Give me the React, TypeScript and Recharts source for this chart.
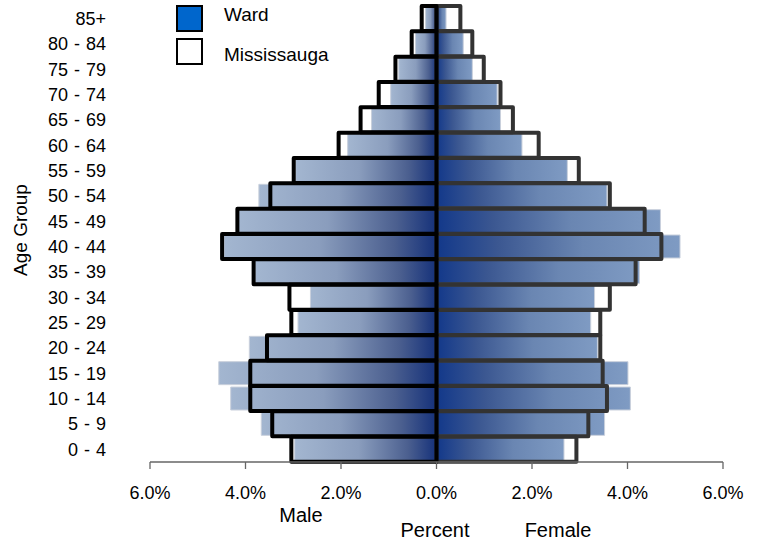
import { BarChart, Bar, XAxis, YAxis } from 'recharts';

// age groups, youngest first (axis is reversed so 85+ sits on top)
const AGE_GROUPS = [
  '0 - 4', '5 - 9', '10 - 14', '15 - 19', '20 - 24', '25 - 29', '30 - 34', '35 - 39', '40 - 44',
  '45 - 49', '50 - 54', '55 - 59', '60 - 64', '65 - 69', '70 - 74', '75 - 79', '80 - 84', '85+',
];

// percent of population
const WARD_MALE = [2.97, 3.67, 4.31, 4.56, 3.92, 2.9, 2.64, 3.8, 4.45, 4.15, 3.72, 2.95, 1.86, 1.36, 0.96, 0.79, 0.44, 0.23];
const WARD_FEMALE = [2.67, 3.52, 4.06, 4.01, 3.37, 3.23, 3.31, 4.25, 5.1, 4.69, 3.57, 2.74, 1.79, 1.34, 1.27, 0.75, 0.56, 0.2];
const MISS_MALE = [3.04, 3.44, 3.9, 3.9, 3.55, 3.04, 3.08, 3.83, 4.49, 4.17, 3.48, 2.99, 2.05, 1.59, 1.21, 0.86, 0.52, 0.31];
const MISS_FEMALE = [2.93, 3.18, 3.57, 3.48, 3.43, 3.43, 3.63, 4.17, 4.71, 4.36, 3.63, 2.98, 2.14, 1.6, 1.34, 0.99, 0.75, 0.5];

const X_TICKS = [-6, -4, -2, 0, 2, 4, 6];

const FONT = '"Liberation Sans", Arial, sans-serif';

const data = AGE_GROUPS.map((age, i) => ({
  age,
  wardMale: -WARD_MALE[i],
  wardFemale: WARD_FEMALE[i],
  missMale: -MISS_MALE[i],
  missFemale: MISS_FEMALE[i],
}));

export default function App() {
  return (
    <div style={{ position: 'absolute', left: 0, top: 0, width: 763, height: 542, background: '#fff', fontFamily: FONT }}>
      <BarChart
        width={763}
        height={542}
        data={data}
        layout="vertical"
        stackOffset="sign"
        barGap={-24}
        margin={{ top: 6, right: 40, bottom: 0, left: 0 }}
      >
        <defs>
          <linearGradient id="gradMale" x1="0" y1="0" x2="1" y2="0">
            <stop offset="0" stopColor="#a3b6d0" />
            <stop offset="0.45" stopColor="#8a9dbd" />
            <stop offset="0.8" stopColor="#4b5f8f" />
            <stop offset="1" stopColor="#15317a" />
          </linearGradient>
          <linearGradient id="gradFemale" x1="0" y1="0" x2="1" y2="0">
            <stop offset="0" stopColor="#12388a" />
            <stop offset="0.25" stopColor="#3b5791" />
            <stop offset="0.6" stopColor="#6a86b2" />
            <stop offset="1" stopColor="#7f9bc3" />
          </linearGradient>
        </defs>
        <XAxis
          type="number"
          domain={[-6, 6]}
          ticks={X_TICKS}
          interval={0}
          height={80}
          tickFormatter={(v: number) => Math.abs(v).toFixed(1) + '%'}
          axisLine={{ stroke: '#666', strokeWidth: 1.3 }}
          tickLine={{ stroke: '#666', strokeWidth: 1.3 }}
          tickSize={7}
          tickMargin={17}
          tick={{ fill: '#000', fontSize: 18, fontFamily: FONT }}
        />
        <YAxis
          type="category"
          dataKey="age"
          reversed
          width={150}
          interval={0}
          axisLine={false}
          tickLine={false}
          tickSize={0}
          tickMargin={44}
          tick={{ fill: '#000', fontSize: 18, fontFamily: FONT, wordSpacing: 1 }}
        />
        <Bar dataKey="wardMale" stackId="ward" barSize={23} fill="url(#gradMale)" stroke="#c9d0dc" strokeWidth={1} isAnimationActive={false} />
        <Bar dataKey="wardFemale" stackId="ward" barSize={23} fill="url(#gradFemale)" stroke="#c9d0dc" strokeWidth={1} isAnimationActive={false} />
        <Bar dataKey="missFemale" stackId="miss" barSize={25} fill="none" stroke="#333" strokeWidth={4} strokeLinejoin="round" isAnimationActive={false} />
        <Bar dataKey="missMale" stackId="miss" barSize={25} fill="none" stroke="#000" strokeWidth={4} strokeLinejoin="round" isAnimationActive={false} />
      </BarChart>

      <svg width={763} height={542} style={{ position: 'absolute', left: 0, top: 0, pointerEvents: 'none' }}>
        <rect x={177} y={6} width={25} height={25} fill="#0066cc" stroke="#000" strokeWidth={2} />
        <text x={224} y={21} fontSize={19} fontFamily={FONT} fill="#000">Ward</text>
        <rect x={177} y={39} width={25} height={25} fill="#fff" stroke="#000" strokeWidth={2} />
        <text x={224} y={61} fontSize={19} fontFamily={FONT} fill="#000">Mississauga</text>

        <text x={20} y={230} fontSize={19} fontFamily={FONT} fill="#000" textAnchor="middle" dominantBaseline="central" transform="rotate(-90 20 230)">
          Age Group
        </text>

        <text x={301} y={522} fontSize={20} fontFamily={FONT} fill="#000" textAnchor="middle">Male</text>
        <text x={435} y={537} fontSize={20} fontFamily={FONT} fill="#000" textAnchor="middle">Percent</text>
        <text x={558} y={537} fontSize={20} fontFamily={FONT} fill="#000" textAnchor="middle">Female</text>
      </svg>
    </div>
  );
}
